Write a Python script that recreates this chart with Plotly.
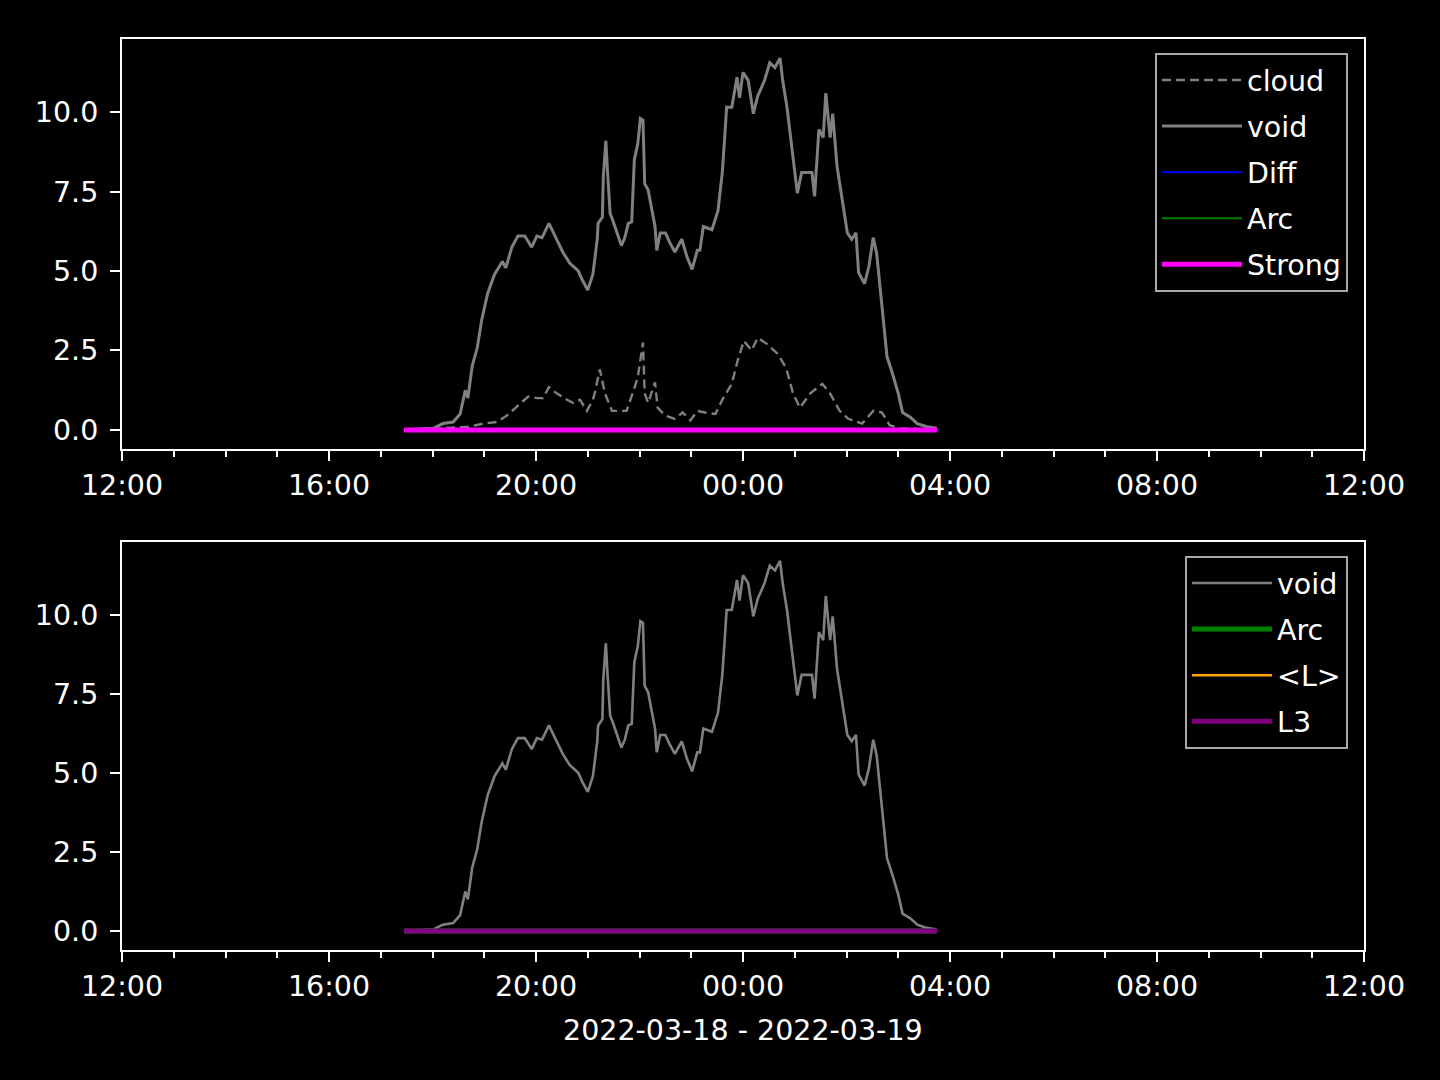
import plotly.graph_objects as go
from plotly.subplots import make_subplots

# ---- data ----
void_times = ["17:27", "18:01", "18:12", "18:24", "18:32", "18:38", "18:41", "18:46", "18:52", "18:57",
              "19:04", "19:12", "19:21", "19:25", "19:32", "19:39", "19:47", "19:55", "20:01", "20:07",
              "20:15", "20:22", "20:31", "20:39", "20:49", "20:54", "21:00", "21:06", "21:08", "21:11",
              "21:12", "21:17", "21:18", "21:21", "21:23", "21:26", "21:29", "21:34", "21:39", "21:43",
              "21:47", "21:51", "21:54", "21:58", "22:01", "22:04", "22:06", "22:10", "22:14", "22:18",
              "22:20", "22:24", "22:30", "22:35", "22:41", "22:49", "22:55", "23:01", "23:07", "23:10",
              "23:14", "23:24", "23:31", "23:36", "23:39", "23:41", "23:47", "23:53", "23:56", "00:00",
              "00:06", "00:12", "00:17", "00:25", "00:31", "00:37", "00:43", "00:46", "00:51", "00:57",
              "01:03", "01:08", "01:14", "01:20", "01:23", "01:28", "01:33", "01:36", "01:41", "01:44",
              "01:49", "01:55", "02:01", "02:06", "02:11", "02:14", "02:21", "02:26", "02:31", "02:35",
              "02:41", "02:47", "02:53", "03:00", "03:05", "03:14", "03:22", "03:33", "03:45"]
void_values = [0.0, 0.05, 0.2, 0.25, 0.5, 1.25, 1.0, 2.0, 2.6, 3.45,
               4.3, 4.9, 5.3, 5.1, 5.75, 6.1, 6.1, 5.75, 6.1, 6.05,
               6.5, 6.1, 5.6, 5.25, 5.0, 4.7, 4.4, 4.9, 5.35, 6.0,
               6.5, 6.7, 7.95, 9.1, 8.1, 6.8, 6.6, 6.2, 5.8, 6.05,
               6.5, 6.55, 8.5, 9.0, 9.8, 9.75, 7.75, 7.55, 7.0, 6.4,
               5.65, 6.2, 6.2, 5.9, 5.6, 6.0, 5.45, 5.05, 5.65, 5.65,
               6.4, 6.3, 6.9, 8.1, 9.3, 10.15, 10.15, 11.1, 10.45, 11.25,
               11.0, 9.95, 10.5, 11.0, 11.55, 11.4, 11.7, 11.0, 10.15, 8.7,
               7.45, 8.1, 8.1, 8.1, 7.35, 9.45, 9.2, 10.6, 9.2, 9.95,
               8.3, 7.25, 6.2, 6.0, 6.2, 4.95, 4.6, 5.15, 6.05, 5.55,
               3.9, 2.3, 1.8, 1.15, 0.55, 0.4, 0.2, 0.1, 0.05]

cloud_times = ["17:27", "18:01", "18:42", "18:59", "19:15", "19:26", "19:36", "19:44", "19:51", "20:01",
               "20:08", "20:15", "20:24", "20:36", "20:43", "20:51", "20:59", "21:06", "21:08", "21:14",
               "21:20", "21:28", "21:37", "21:45", "21:52", "21:58", "22:04", "22:06", "22:10", "22:18",
               "22:21", "22:30", "22:41", "22:50", "22:59", "23:07", "23:16", "23:28", "23:36", "23:47",
               "23:54", "00:01", "00:10", "00:17", "00:28", "00:40", "00:50", "00:58", "01:06", "01:18",
               "01:32", "01:41", "01:52", "02:02", "02:18", "02:31", "02:41", "02:50", "03:02", "03:45"]
cloud_values = [0.0, 0.05, 0.1, 0.2, 0.25, 0.45, 0.7, 0.9, 1.05, 1.0,
                1.0, 1.35, 1.15, 0.95, 0.85, 0.95, 0.6, 0.95, 1.15, 1.9,
                1.15, 0.6, 0.6, 0.6, 1.15, 1.65, 2.75, 1.15, 0.85, 1.5,
                0.7, 0.45, 0.35, 0.55, 0.3, 0.6, 0.55, 0.5, 0.95, 1.45,
                2.2, 2.8, 2.5, 2.9, 2.7, 2.4, 1.95, 1.15, 0.7, 1.15,
                1.45, 1.15, 0.6, 0.35, 0.2, 0.6, 0.55, 0.15, 0.05, 0.0]

flat_times = ["17:27", "03:45"]
diff_values = [0.0, 0.0]
arc_values = [0.0, 0.0]
strong_values = [0.0, 0.0]
meanL_values = [0.0, 0.0]
l3_values = [0.0, 0.0]

x_range = ["2022-03-18 12:00", "2022-03-19 12:00"]
date_label = "2022-03-18 - 2022-03-19"


def to_dt(times):
    out = []
    for t in times:
        h = int(t.split(":")[0])
        day = "2022-03-18" if h >= 12 else "2022-03-19"
        out.append(f"{day} {t}")
    return out


FONT = "DejaVu Sans"
FS = 28.5
W, H = 1440, 1080

fig = make_subplots(rows=2, cols=1)

GRAY = "#808080"

# top panel
fig.add_trace(go.Scatter(x=to_dt(cloud_times), y=cloud_values, mode="lines", name="cloud",
                         line=dict(color=GRAY, width=2.4, dash="9px,5px"),
                         legend="legend", legendgroup="a1"), row=1, col=1)
fig.add_trace(go.Scatter(x=to_dt(void_times), y=void_values, mode="lines", name="void",
                         line=dict(color=GRAY, width=3),
                         legend="legend", legendgroup="a2"), row=1, col=1)
fig.add_trace(go.Scatter(x=to_dt(flat_times), y=diff_values, mode="lines", name="Diff",
                         line=dict(color="#0000ff", width=2),
                         legend="legend", legendgroup="a3"), row=1, col=1)
fig.add_trace(go.Scatter(x=to_dt(flat_times), y=arc_values, mode="lines", name="Arc",
                         line=dict(color="#008000", width=2),
                         legend="legend", legendgroup="a4"), row=1, col=1)
fig.add_trace(go.Scatter(x=to_dt(flat_times), y=strong_values, mode="lines", name="Strong",
                         line=dict(color="#ff00ff", width=5),
                         legend="legend", legendgroup="a5"), row=1, col=1)

# bottom panel
fig.add_trace(go.Scatter(x=to_dt(void_times), y=void_values, mode="lines", name="void",
                         line=dict(color=GRAY, width=2.6),
                         legend="legend2", legendgroup="b1"), row=2, col=1)
fig.add_trace(go.Scatter(x=to_dt(flat_times), y=arc_values, mode="lines", name="Arc",
                         line=dict(color="#008000", width=5),
                         legend="legend2", legendgroup="b2"), row=2, col=1)
fig.add_trace(go.Scatter(x=to_dt(flat_times), y=meanL_values, mode="lines", name="<L>",
                         line=dict(color="#ffa500", width=2.5),
                         legend="legend2", legendgroup="b3"), row=2, col=1)
fig.add_trace(go.Scatter(x=to_dt(flat_times), y=l3_values, mode="lines", name="L3",
                         line=dict(color="#800080", width=5),
                         legend="legend2", legendgroup="b4"), row=2, col=1)

xdom = [122 / W, 1364 / W]
top_dom = [1 - 449 / H, 1 - 39 / H]
bot_dom = [1 - 950 / H, 1 - 542 / H]

axis_common = dict(showline=True, linecolor="white", linewidth=2, mirror=True,
                   showgrid=False, zeroline=False, ticks="outside", tickcolor="white",
                   tickwidth=2, ticklen=10, automargin=False,
                   tickfont=dict(family=FONT, size=FS, color="white"))

for r, dom in ((1, top_dom), (2, bot_dom)):
    fig.update_xaxes(row=r, col=1, domain=xdom, range=x_range, type="date",
                     tick0="2022-03-18 12:00", dtick=4 * 3600 * 1000, tickformat="%H:%M",
                     minor=dict(dtick=3600 * 1000, ticks="outside", ticklen=6, tickwidth=2,
                                tickcolor="white", showgrid=False),
                     **axis_common)
    fig.update_yaxes(row=r, col=1, domain=dom, range=[-0.6, 12.3],
                     tickvals=[0, 2.5, 5, 7.5, 10], ticktext=["0.0", "2.5", "5.0", "7.5", "10.0"],
                     ticklabelstandoff=6,
                     **axis_common)

legend_common = dict(bgcolor="black", bordercolor="#a8a8a8", borderwidth=2,
                     font=dict(family=FONT, size=FS, color="white"),
                     xanchor="right", yanchor="top", traceorder="grouped",
                     tracegroupgap=6, itemwidth=80)

fig.update_layout(
    template="none",
    width=W, height=H,
    paper_bgcolor="black", plot_bgcolor="black",
    margin=dict(l=0, r=0, t=0, b=0, autoexpand=False),
    font=dict(family=FONT, size=FS, color="white"),
    showlegend=True,
    legend=dict(x=1348 / W, y=1 - 53 / H, **legend_common),
    legend2=dict(x=1348 / W, y=1 - 556 / H, **legend_common),
    annotations=[dict(text=date_label, xref="paper", yref="paper",
                      x=(743) / W, y=1 - 1030 / H, xanchor="center", yanchor="middle",
                      showarrow=False, font=dict(family=FONT, size=FS, color="white"))],
)

fig.write_html("out.html", config={"displayModeBar": False},
               post_script="document.body.style.margin='0';document.body.style.background='black';"
                           "document.documentElement.style.background='black';")
